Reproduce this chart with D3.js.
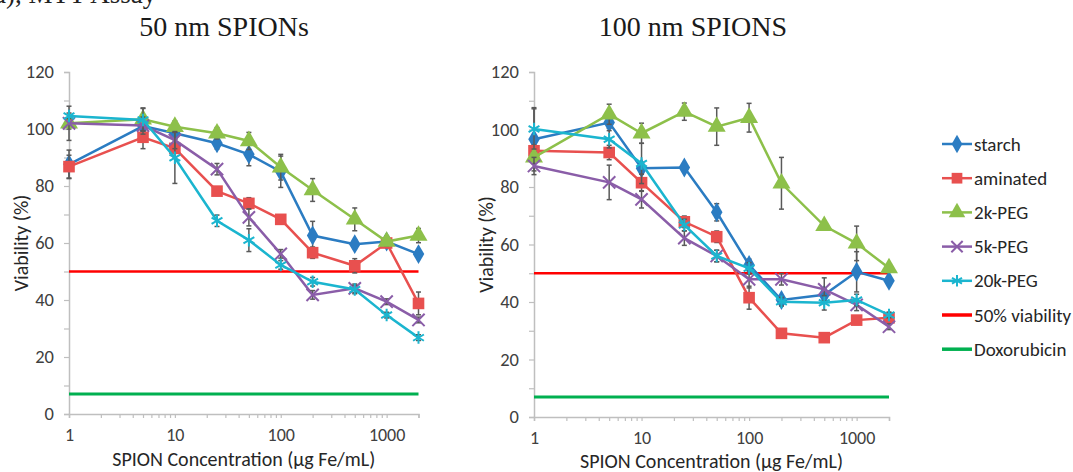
<!DOCTYPE html>
<html>
<head>
<meta charset="utf-8">
<script src="https://cdn.jsdelivr.net/npm/d3@7"></script>
<style>
  body { margin: 0; background: #fff; }
  svg { display: block; }
</style>
</head>
<body>
<div id="chart"></div>
<script>
// concentrations (ug Fe/mL), same for every series
var conc = [1, 5, 10, 25, 50, 100, 200, 500, 1000, 2000];
var seriesNames = ["starch", "aminated", "2k-PEG", "5k-PEG", "20k-PEG"];
var refNames = ["50% viability", "Doxorubicin"];
var refValues = [50, 7];

// 50 nm SPIONs - viability (%)
var starch50   = [87.6, 101.0, 98.5, 95.0, 91.1, 85.0, 62.6, 59.6, 60.5, 56.1];
var aminated50 = [86.8, 97.1, 93.2, 78.2, 73.9, 68.3, 56.6, 52.0, 60.0, 38.8];
var peg2k50    = [102.0, 103.4, 100.8, 98.5, 95.8, 86.6, 78.6, 68.3, 60.5, 62.6];
var peg5k50    = [102.0, 101.2, 96.1, 85.9, 69.0, 56.2, 41.8, 44.1, 39.4, 33.0];
var peg20k50   = [104.6, 103.2, 89.9, 67.8, 61.0, 52.3, 46.4, 43.7, 34.7, 26.8];
// error bars (+/-)
var starch50Err   = [5, 3, 2, 2, 4, 5.5, 5, 1.5, 2, 1];
var aminated50Err = [4, 4, 3, 1.5, 2, 1.5, 2, 2.5, 1.5, 4];
var peg2k50Err    = [2, 4, 2, 2, 3, 4.5, 4, 4, 1.5, 2.5];
var peg5k50Err    = [6, 3, 3, 2, 3, 1.5, 1.5, 1.5, 1, 1];
var peg20k50Err   = [1, 4, 9, 2, 4, 1.5, 1.5, 1.5, 1, 1];

// 100 nm SPIONs - viability (%)
var starch100   = [96.6, 102.4, 86.5, 86.8, 71.2, 52.9, 40.7, 42.5, 50.5, 47.4];
var aminated100 = [92.6, 92.0, 81.5, 67.9, 62.7, 41.5, 29.1, 27.6, 33.7, 34.5];
var peg2k100    = [90.3, 105.3, 98.7, 106.2, 101.0, 104.1, 81.3, 66.5, 60.4, 51.8];
var peg5k100    = [87.3, 81.6, 75.7, 62.2, 56.0, 47.9, 47.9, 44.4, 39.0, 31.4];
var peg20k100   = [100.2, 96.6, 88.2, 66.8, 56.0, 51.7, 40.1, 39.7, 40.7, 35.5];
var starch100Err   = [11, 2, 2, 1.5, 3, 2, 1.5, 2, 7, 1];
var aminated100Err = [2, 2.5, 3, 2, 2, 4, 1.5, 1.5, 1.5, 1.5];
var peg2k100Err    = [2, 3.5, 3.5, 3, 6.5, 5, 9, 1.5, 6, 1];
var peg5k100Err    = [3, 6, 3, 2.5, 2, 3, 2, 4, 2, 1];
var peg20k100Err   = [7, 3, 7, 2, 2, 2, 1.5, 2.5, 2, 1];

var yTicks = [0, 20, 40, 60, 80, 100, 120];
var xTickLabels = [1, 10, 100, 1000];

var colors = ["#2b7cc2", "#e8504f", "#8dc04a", "#8a5da8", "#1bb5cf"];
var refColors = ["#ff0000", "#00b050"];
var symbols = [d3.symbolDiamond, d3.symbolSquare, d3.symbolTriangle, d3.symbolTimes, d3.symbolAsterisk];
var symSize = [115, 135, 140, 100, 110];

var svg = d3.select("#chart").append("svg")
    .attr("width", 1073)
    .attr("height", 472);

var labelFont = "Carlito, Lato, 'Open Sans', sans-serif";
var textColor = "#404040";

// caption partly cut off at the top edge, as in the source figure
svg.append("text")
    .attr("x", -6).attr("y", 3)
    .style("font-family", "'Liberation Serif', serif")
    .style("font-size", "27px")
    .attr("fill", "#222")
    .text("a), MTT Assay");

function drawPanel(opt) {
    var x = d3.scaleLog().domain([1, 2000]).range([opt.left, opt.right]);
    var y = d3.scaleLinear().domain([0, 120]).range([opt.bottom, opt.top]);
    var g = svg.append("g");

    // y axis
    var yAxis = d3.axisLeft(y)
        .tickValues(d3.range(0, 121, 10))
        .tickSize(5)
        .tickFormat(function(d) { return yTicks.indexOf(d) >= 0 ? d : ""; });
    var ya = g.append("g").attr("transform", "translate(" + opt.left + ",0)").call(yAxis);
    ya.select(".domain").attr("stroke", "#bfbfbf").attr("stroke-width", 1.5);
    ya.selectAll(".tick line").attr("stroke", "#bfbfbf").attr("stroke-width", 1.2);
    ya.selectAll(".tick text")
        .attr("x", -15)
        .style("font-family", labelFont).style("font-size", "18.5px").attr("fill", textColor);

    // x axis (log)
    var minor = [];
    [1, 10, 100, 1000].forEach(function(p) {
        for (var k = 1; k < 10; k++) { if (p * k <= 2000) minor.push(p * k); }
    });
    var xAxis = d3.axisBottom(x)
        .tickValues(minor)
        .tickSize(4)
        .tickFormat(function(d) { return xTickLabels.indexOf(d) >= 0 ? d : ""; });
    var xa = g.append("g").attr("transform", "translate(0," + opt.bottom + ")").call(xAxis);
    xa.select(".domain").attr("stroke", "#bfbfbf").attr("stroke-width", 1.5);
    xa.selectAll(".tick text")
        .attr("y", 14)
        .style("font-family", labelFont).style("font-size", "18px").attr("fill", textColor);
    xa.selectAll(".tick line").attr("stroke", "#bfbfbf").attr("stroke-width", 1.2);

    // axis titles
    g.append("text")
        .attr("x", (opt.left + opt.right) / 2)
        .attr("y", opt.titleY)
        .attr("text-anchor", "middle")
        .style("font-family", labelFont).style("font-size", "20px").attr("fill", "#262626")
        .text("SPION Concentration (\u00b5g Fe/mL)");
    g.append("text")
        .attr("transform", "translate(" + (opt.left - 41) + "," + ((opt.top + opt.bottom) / 2) + ") rotate(-90)")
        .attr("text-anchor", "middle")
        .style("font-family", labelFont).style("font-size", "20px").attr("fill", "#262626")
        .text("Viability (%)");

    // panel title
    svg.append("text")
        .attr("x", opt.titleX).attr("y", 36)
        .attr("text-anchor", "middle")
        .style("font-family", "'Liberation Serif', serif")
        .style("font-size", "28px")
        .attr("fill", "#1a1a1a")
        .text(opt.title);

    // reference lines
    refValues.forEach(function(v, i) {
        g.append("path")
            .datum([1, 2000])
            .attr("fill", "none")
            .attr("stroke", refColors[i])
            .attr("stroke-width", i === 0 ? 2.5 : 3)
            .attr("d", d3.line().x(function(d) { return x(d); }).y(function() { return y(v); }));
    });

    var line = d3.line()
        .x(function(d) { return x(d.c); })
        .y(function(d) { return y(d.v); });

    opt.series.forEach(function(vals, i) {
        var pts = conc.map(function(c, j) { return { c: c, v: vals[j], e: opt.errors[i][j] }; });
        var sg = g.append("g");
        sg.append("path")
            .datum(pts)
            .attr("fill", "none")
            .attr("stroke", colors[i])
            .attr("stroke-width", 2.5)
            .attr("d", line);
        // error bars
        var eb = sg.selectAll(".eb").data(pts).enter().append("g").attr("class", "eb");
        eb.append("line")
            .attr("x1", function(d) { return x(d.c); })
            .attr("x2", function(d) { return x(d.c); })
            .attr("y1", function(d) { return y(d.v - d.e); })
            .attr("y2", function(d) { return y(d.v + d.e); })
            .attr("stroke", "#595959").attr("stroke-width", 1.5);
        [-1, 1].forEach(function(s) {
            eb.append("line")
                .attr("x1", function(d) { return x(d.c) - 2.5; })
                .attr("x2", function(d) { return x(d.c) + 2.5; })
                .attr("y1", function(d) { return y(d.v + s * d.e); })
                .attr("y2", function(d) { return y(d.v + s * d.e); })
                .attr("stroke", "#595959").attr("stroke-width", 1.5);
        });
        // markers
        var stroked = i >= 3;
        sg.selectAll(".mk").data(pts).enter().append("path")
            .attr("class", "mk")
            .attr("transform", function(d) { return "translate(" + x(d.c) + "," + y(d.v) + ")"; })
            .attr("d", d3.symbol().type(symbols[i]).size(symSize[i]))
            .attr("fill", stroked ? "none" : colors[i])
            .attr("stroke", colors[i])
            .attr("stroke-width", stroked ? 2 : 0);
    });
}

drawPanel({
    left: 69, right: 418.5, top: 72, bottom: 414, titleX: 224, titleY: 466, title: "50 nm SPIONs",
    series: [starch50, aminated50, peg2k50, peg5k50, peg20k50],
    errors: [starch50Err, aminated50Err, peg2k50Err, peg5k50Err, peg20k50Err]
});
drawPanel({
    left: 534, right: 889, top: 72, bottom: 417, titleX: 693, titleY: 467.5, title: "100 nm SPIONS",
    series: [starch100, aminated100, peg2k100, peg5k100, peg20k100],
    errors: [starch100Err, aminated100Err, peg2k100Err, peg5k100Err, peg20k100Err]
});

// legend
var legNames = seriesNames.concat(refNames);
var legColors = colors.concat(refColors);
var leg = svg.append("g").attr("transform", "translate(942,144)");
legNames.forEach(function(name, i) {
    var row = leg.append("g").attr("transform", "translate(0," + (i * 34.2) + ")");
    row.append("line")
        .attr("x1", 0).attr("x2", 30).attr("y1", 0).attr("y2", 0)
        .attr("stroke", legColors[i]).attr("stroke-width", i < 5 ? 2.5 : 3.5);
    if (i < 5) {
        row.append("path")
            .attr("transform", "translate(15,0)")
            .attr("d", d3.symbol().type(symbols[i]).size(symSize[i] * 0.85))
            .attr("fill", i >= 3 ? "none" : legColors[i])
            .attr("stroke", legColors[i])
            .attr("stroke-width", i >= 3 ? 2 : 0);
    }
    row.append("text")
        .attr("x", 32).attr("y", 6.5)
        .style("font-family", labelFont).style("font-size", "19px").attr("fill", "#262626")
        .text(name);
});
</script>
</body>
</html>
